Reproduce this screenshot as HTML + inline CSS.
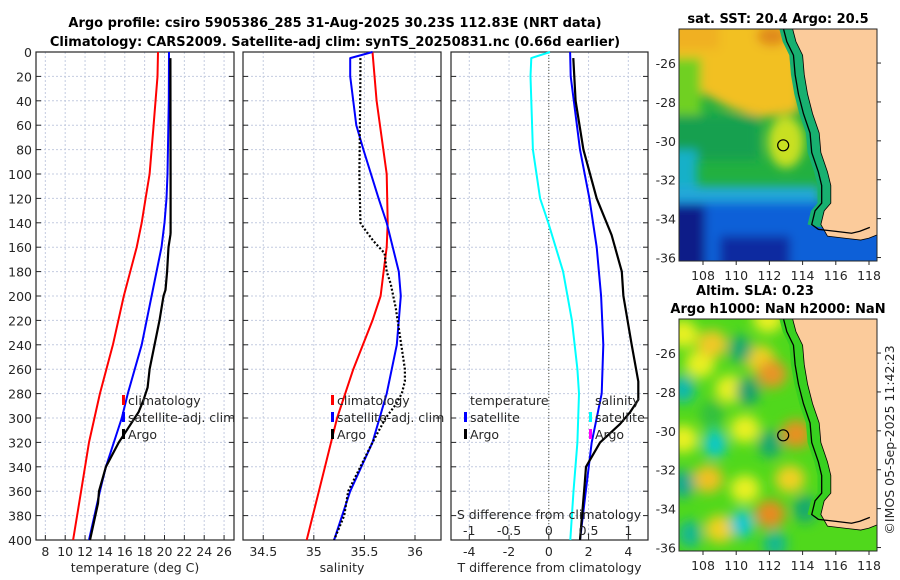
<!DOCTYPE html>
<html><head><meta charset="utf-8"><style>
body{margin:0;background:#fff;}
svg{display:block;font-family:"DejaVu Sans","Liberation Sans",sans-serif;}
.tk{font-size:12.5px;fill:#262626;}
.tt{font-size:13px;font-weight:bold;fill:#000;}
</style></head><body>
<svg id="c" width="900" height="580" viewBox="0 0 900 580" xmlns="http://www.w3.org/2000/svg">
<text class="tt" x="335" y="27" text-anchor="middle">Argo profile: csiro 5905386_285 31-Aug-2025 30.23S 112.83E (NRT data)</text>
<text class="tt" x="335" y="46" text-anchor="middle">Climatology: CARS2009. Satellite-adj clim: synTS_20250831.nc (0.66d earlier)</text>
<g id="plots"></g>
<g id="maps"></g>
<text class="tk" transform="translate(894,440) rotate(-90)" text-anchor="middle">©IMOS 05-Sep-2025 11:42:23</text>
</svg>
<script>
// ---- data ----
const depthTicks=[0,20,40,60,80,100,120,140,160,180,200,220,240,260,280,300,320,340,360,380,400];
const tempTicks=[8,10,12,14,16,18,20,22,24,26];
const salTicks=[34.5,35,35.5,36];
const tdiffTicks=[-4,-2,0,2,4];
const sdiffTicks=[-1,-0.5,0,0.5,1];
const climTD=[0,20,60,100,120,140,160,200,240,280,320,360,400];
const climT=[19.35,19.3,18.9,18.5,18.1,17.7,17.2,15.9,14.8,13.5,12.4,11.6,10.8];
const satTD=[0,40,100,120,140,160,200,240,280,300,340,360,400];
const satT=[20.45,20.43,20.3,20.2,20.0,19.7,18.7,17.7,16.3,15.7,14.1,13.5,12.4];
const argoTD=[5,100,148,150,160,180,195,200,220,260,275,285,295,310,320,340,360,370,400];
const argoT=[20.6,20.62,20.62,20.6,20.4,20.26,20.1,19.9,19.5,18.5,18.3,17.9,17.4,16.2,15.4,14.1,13.4,13.3,12.5];
const climSD=[0,40,100,140,160,180,200,220,260,300,340,400];
const climS=[35.58,35.62,35.72,35.73,35.72,35.69,35.66,35.58,35.39,35.23,35.11,34.93];
const satSD=[0,5,20,60,80,120,140,180,200,240,280,320,360,400];
const satS=[35.58,35.36,35.36,35.42,35.49,35.64,35.72,35.84,35.86,35.82,35.72,35.58,35.36,35.20];
const argoSD=[5,20,100,140,145,155,165,180,190,210,260,270,280,290,300,320,340,360,380,400];
const argoS=[35.46,35.46,35.45,35.46,35.5,35.59,35.7,35.72,35.76,35.81,35.9,35.9,35.87,35.8,35.71,35.58,35.46,35.34,35.3,35.2];
const sdD=[0,5,20,80,120,140,180,220,260,280,320,360,400];
const sdV=[0.015,-0.22,-0.23,-0.2,-0.11,-0.006,0.18,0.29,0.36,0.38,0.36,0.31,0.27];
const tdSatD=[0,20,80,120,160,200,240,280,320,360,400];
const tdSat=[1.07,1.1,1.57,2.04,2.41,2.63,2.74,2.66,2.16,1.86,1.57];
const tdArgoD=[5,40,80,120,150,180,200,240,270,285,295,305,320,340,355,400];
const tdArgo=[1.23,1.35,1.74,2.41,3.16,3.67,3.75,4.17,4.5,4.5,4.1,3.58,2.58,1.87,1.8,1.57];

const NS="http://www.w3.org/2000/svg";
function mk(tag,at,parent){const e=document.createElementNS(NS,tag);for(const k in at)e.setAttribute(k,at[k]);parent.appendChild(e);return e;}
const P=document.getElementById('plots');
const Y0=52,Y1=540;
const yS=d=>Y0+(d/400)*(Y1-Y0);
const panels=[
 {x0:36,x1:234,v0:7.06,v1:27.0,ticks:tempTicks,label:'temperature (deg C)',name:'temperature'},
 {x0:243,x1:441,v0:34.3,v1:36.257,ticks:salTicks,label:'salinity',name:'salinity'},
 {x0:451,x1:648,v0:-4.92,v1:4.99,ticks:tdiffTicks,label:'T difference from climatology',name:'difference'}
];
panels.forEach((p,i)=>{
 p.xS=v=>p.x0+(v-p.v0)/(p.v1-p.v0)*(p.x1-p.x0);
 const g=mk('g',{},P);
 
 
 depthTicks.forEach(d=>{
  const l=mk('line',{x1:p.x0,x2:p.x1,y1:yS(d),y2:yS(d),stroke:'#c4cce0','stroke-width':1,'stroke-dasharray':'2,2'},g);
  
  
  mk('line',{x1:p.x0,x2:p.x0+5,y1:yS(d),y2:yS(d),stroke:'#262626'},g);
  mk('line',{x1:p.x1-5,x2:p.x1,y1:yS(d),y2:yS(d),stroke:'#262626'},g);
  if(i===0){const t=mk('text',{x:p.x0-4,y:yS(d)+5,'text-anchor':'end',class:'tk'},g);t.textContent=d;
   
   }
 });
 p.ticks.forEach(v=>{
  const x=p.xS(v);
  const l=mk('line',{x1:x,x2:x,y1:Y0,y2:Y1,stroke:'#c4cce0','stroke-width':1,'stroke-dasharray':'2,2'},g);
  
  
  mk('line',{x1:x,x2:x,y1:Y1,y2:Y1-5,stroke:'#262626'},g);
  const t=mk('text',{x:x,y:Y1+16,'text-anchor':'middle',class:'tk'},g);t.textContent=v;
  
  
 });
 mk('rect',{x:p.x0,y:Y0,width:p.x1-p.x0,height:Y1-Y0,fill:'none',stroke:'#262626','stroke-width':1.2},g);
 const t=mk('text',{x:(p.x0+p.x1)/2,y:572,'text-anchor':'middle',class:'tk'},g);t.textContent=p.label;
 
 
});
function line(xs,ds,vs,color,w,dash,name){
 const pts=ds.map((d,k)=>xs(vs[k]).toFixed(1)+','+yS(d).toFixed(1)).join(' ');
 const e=mk('polyline',{points:pts,fill:'none',stroke:color,'stroke-width':w,'stroke-linejoin':'round'},P);
 if(dash)e.setAttribute('stroke-dasharray',dash);
 
 
}
const p1=panels[0],p2=panels[1],p3=panels[2];
line(p1.xS,climTD,climT,'#f00',2,null,'climatology-temperature-line');
line(p1.xS,satTD,satT,'#00f',2,null,'satellite-temperature-line');
line(p1.xS,argoTD,argoT,'#000',2.2,null,'argo-temperature-line');
line(p2.xS,climSD,climS,'#f00',2,null,'climatology-salinity-line');
line(p2.xS,satSD,satS,'#00f',2,null,'satellite-salinity-line');
line(p2.xS,argoSD,argoS,'#000',2.2,'2,2','argo-salinity-line');
const zx=p3.xS(0);
const zl=mk('line',{x1:zx,x2:zx,y1:Y0,y2:Y1,stroke:'#554','stroke-width':1,'stroke-dasharray':'1,2'},P);


const sX=v=>p3.xS(v*4);
line(sX,sdD,sdV,'#0ff',2,null,'salinity-satellite-diff-line');
line(p3.xS,tdSatD,tdSat,'#00f',2,null,'temperature-satellite-diff-line');
line(p3.xS,tdArgoD,tdArgo,'#000',2.2,null,'temperature-argo-diff-line');
sdiffTicks.forEach(v=>{const t=mk('text',{x:sX(v),y:535,'text-anchor':'middle',class:'tk'},P);t.textContent=v;
 
 });
{const t=mk('text',{x:549,y:519,'text-anchor':'middle',class:'tk'},P);t.textContent='S difference from climatology';
 
 }
function leg(x,y,color,txt,name){
 if(color){mk('rect',{x:x,y:y-10,width:3,height:10,fill:color},P);}
 const t=mk('text',{x:x+6,y:y,class:'tk'},P);t.textContent=txt;
 
 
}
leg(122,405,'#f00','climatology','legend-climatology');
leg(122,422,'#00f','satellite-adj. clim','legend-satellite');
leg(122,439,'#000','Argo','legend-argo');
leg(331,405,'#f00','climatology','legend-climatology-s');
leg(331,422,'#00f','satellite-adj. clim','legend-satellite-s');
leg(331,439,'#000','Argo','legend-argo-s');
leg(464,405,null,'temperature','legend-temperature-header');
leg(464,422,'#00f','satellite','legend-t-satellite');
leg(464,439,'#000','Argo','legend-t-argo');
leg(589,405,null,'salinity','legend-salinity-header');
leg(589,422,'#0ff','satellite','legend-s-satellite');
leg(589,439,'#f0f','Argo','legend-s-argo');

// ---- maps ----
const M=document.getElementById('maps');
const defs=mk('defs',{},M);
const f=mk('filter',{id:'bl',x:'-30%',y:'-30%',width:'160%',height:'160%'},defs);mk('feGaussianBlur',{stdDeviation:6},f);
const f2=mk('filter',{id:'bl2',x:'-30%',y:'-30%',width:'160%',height:'160%'},defs);mk('feGaussianBlur',{stdDeviation:5},f2);
const lonTicks=[108,110,112,114,116,118];
const latTicks=[-26,-28,-30,-32,-34,-36];
const coastLon=[113.4,113.6,114.0,114.1,114.3,114.6,115.0,115.1,115.5,115.7,115.7,115.3,115.1,115.5,116.5,117.5,118.0,118.6,118.6];
const coastLat=[-24.25,-24.9,-25.6,-26.6,-27.6,-28.6,-29.6,-30.6,-31.6,-32.3,-33.2,-33.6,-34.3,-34.9,-35.0,-35.1,-35.0,-34.8,-24.25];
const maps=[{y0:29,y1:261,latTop:-24.25,name:'sst-map'},{y0:319,y1:551,latTop:-24.25,name:'sla-map'}];
maps.forEach((m,mi)=>{
 const x0=679,x1=877;
 const lx=lon=>703+(lon-108)*16.6;
 const ly=lat=>m.y0+(m.latTop-lat)*19.45;
 const g=mk('g',{},M);
 
 
 const cp=mk('clipPath',{id:'cp'+mi},defs);mk('rect',{x:x0,y:m.y0,width:x1-x0,height:m.y1-m.y0},cp);
 const inner=mk('g',{'clip-path':'url(#cp'+mi+')'},g);
 if(mi===0){
  mk('rect',{x:x0,y:m.y0,width:x1-x0,height:m.y1-m.y0,fill:'#22b040'},inner);
  const b=mk('g',{filter:'url(#bl2)'},inner);
  mk('polygon',{points:'669,19 800,19 800,112 760,118 730,108 700,92 669,80',fill:'#f2c020'},b);
  mk('rect',{x:669,y:19,width:50,height:30,fill:'#f0b020'},b);
  mk('ellipse',{cx:772,cy:36,rx:15,ry:10,fill:'#e08a1a'},b);
  mk('rect',{x:669,y:58,width:32,height:60,fill:'#70d020'},b);
  mk('ellipse',{cx:786,cy:142,rx:18,ry:26,fill:'#c8e020'},b);
  mk('rect',{x:669,y:115,width:90,height:45,fill:'#18a050'},b);
  mk('rect',{x:669,y:150,width:28,height:55,fill:'#18b0c8'},b);
  mk('rect',{x:669,y:186,width:150,height:20,fill:'#20a8d8'},b);
  mk('rect',{x:669,y:202,width:230,height:70,fill:'#1060d8'},b);
  mk('rect',{x:669,y:205,width:36,height:65,fill:'#0a1a88'},b);
  mk('rect',{x:720,y:236,width:70,height:35,fill:'#0a2aa0'},b);
 } else {
  mk('rect',{x:x0,y:m.y0,width:x1-x0,height:m.y1-m.y0,fill:'#50d81c'},inner);
  const b=mk('g',{filter:'url(#bl)'},inner);
  const blobs=[[683,15,'#e8f020'],[700,45,'#e8f020'],[712,25,'#f0c828'],[745,110,'#e8f020'],[760,40,'#f0d020'],[768,0,'#e8f020'],[772,55,'#e89428'],[730,70,'#e8f020'],[796,115,'#e89020'],[790,160,'#f0d020'],[708,160,'#f0c020'],[745,170,'#e8f020'],[770,195,'#e88a20'],[720,210,'#f0d020'],[683,120,'#e8f020']];
  blobs.forEach(q=>mk('ellipse',{cx:q[0],cy:m.y0+q[1],rx:15,ry:14,fill:q[2]},b));
  const cool=[[683,70,'#10b8b0'],[715,125,'#10c8c8'],[740,30,'#18a870'],[748,72,'#18a070'],[742,205,'#10c8d0'],[770,125,'#18a870'],[805,190,'#18a870'],[690,215,'#18b890'],[712,95,'#30c040'],[775,225,'#18b890'],[683,165,'#18a890']];
  cool.forEach(q=>mk('ellipse',{cx:q[0],cy:m.y0+q[1],rx:12,ry:14,fill:q[2]},b));
 }
 const cpts=coastLon.map((lo,k)=>lx(lo)+','+ly(coastLat[k])).join(' ');
 mk('polygon',{points:coastLon.map((lo,k)=>lx(lo-0.8)+','+ly(coastLat[k]-(k>=13&&k<=17?-0.5:0))).join(' '),fill:mi?'#38d020':'#18b070'},inner);
 const land=mk('polygon',{points:cpts,fill:'#fbcb9b'},inner);
 
 
 const cont=mk('polyline',{points:coastLon.slice(0,18).map((lo,k)=>lx(lo-0.55)+','+ly(coastLat[k]-(k>=13&&k<=17?-0.35:0))).join(' '),fill:'none',stroke:'#000','stroke-width':1.3},inner);
 
 
 mk('polyline',{points:cpts,fill:'none',stroke:'#000','stroke-width':0.8},inner);
 const c=mk('circle',{cx:lx(112.83),cy:ly(-30.23),r:5.5,fill:'none',stroke:'#000','stroke-width':1.2},g);
 
 
 mk('rect',{x:x0,y:m.y0,width:x1-x0,height:m.y1-m.y0,fill:'none',stroke:'#262626'},g);
 latTicks.forEach(la=>{const y=ly(la);
  mk('line',{x1:x1,x2:x1+4,y1:y,y2:y,stroke:'#262626'},g);
  const t=mk('text',{x:x0-3,y:y+5,'text-anchor':'end',class:'tk'},g);t.textContent=la;
  
  });
 lonTicks.forEach(lo=>{const x=lx(lo);
  mk('line',{x1:x,x2:x,y1:m.y1,y2:m.y1+4,stroke:'#262626'},g);
  const t=mk('text',{x:x,y:m.y1+19,'text-anchor':'middle',class:'tk'},g);t.textContent=lo;
  
  });
});
function tt(x,y,s,n){const t=mk('text',{x:x,y:y,'text-anchor':'middle',class:'tt'},M);t.textContent=s;
 
 }
tt(778,23,'sat. SST: 20.4 Argo: 20.5','sst-map-title');
tt(755,295,'Altim. SLA: 0.23','sla-map-title');
tt(778,313,'Argo h1000: NaN h2000: NaN','sla-map-subtitle');
</script>
</body></html>
